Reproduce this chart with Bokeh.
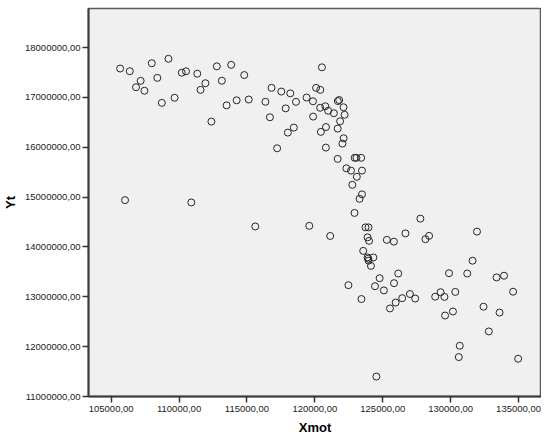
from bokeh.plotting import figure
from bokeh.models import FixedTicker, Range1d
from bokeh.embed import file_html
from bokeh.resources import INLINE

xmot = [
    105660, 106370, 106830, 107170, 107450, 107990, 108400, 108730, 109220, 109670,
    110200, 110510, 111340, 111580, 111940, 112380, 112780, 113150, 113500, 113840,
    114240, 114800, 115130, 116360, 116690, 116810, 117220, 106020, 110900, 115610,
    117530, 118190, 118610, 117850, 118450, 118010, 119390, 119860, 120090, 120400,
    120520, 119870, 120390, 120770, 120980, 121400, 121690, 121790, 122110, 122190,
    121860, 120820, 120440, 121680, 122120, 122030, 120810, 121680, 122930, 123060,
    123410, 122320, 122660, 123470, 123090, 122760, 123470, 123290, 122920, 119590,
    121130, 123730, 123950, 123880, 123990, 123560, 123880, 123960, 123930, 124310,
    124130, 125300, 125820, 126670, 127770, 128140, 128410, 131940, 122470, 123430,
    124530, 124770, 124430, 125080, 125530, 125830, 125950, 126140, 126430, 127000,
    127390, 128860, 129260, 129540, 129590, 129880, 130170, 130340, 130670, 130600,
    131220, 131610, 132420, 132810, 133380, 133930, 133600, 134600, 134970,
]

yt = [
    17579000, 17525000, 17204000, 17332000, 17133000, 17685000, 17392000, 16890000, 17774000, 16993000,
    17495000, 17523000, 17475000, 17151000, 17284000, 16515000, 17623000, 17334000, 16840000, 17653000,
    16941000, 17448000, 16957000, 16912000, 16601000, 17191000, 15979000, 14939000, 14893000, 14411000,
    17117000, 17081000, 16910000, 16780000, 16394000, 16294000, 16997000, 16922000, 17191000, 17151000,
    17603000, 16615000, 16792000, 16822000, 16732000, 16682000, 16926000, 16947000, 16802000, 16651000,
    16521000, 16405000, 16308000, 16374000, 16180000, 16073000, 15993000, 15766000, 15788000, 15788000,
    15788000, 15577000, 15531000, 15531000, 15407000, 15246000, 15055000, 14965000, 14682000, 14423000,
    14220000, 14393000, 14393000, 14192000, 14122000, 13921000, 13791000, 13724000, 13765000, 13789000,
    13620000, 14142000, 14106000, 14272000, 14568000, 14156000, 14222000, 14307000, 13233000, 12955000,
    11400000, 13373000, 13212000, 13128000, 12767000, 13273000, 12885000, 13467000, 12972000, 13056000,
    12965000, 13002000, 13092000, 12998000, 12624000, 13473000, 12705000, 13098000, 12018000, 11791000,
    13467000, 13724000, 12801000, 12305000, 13389000, 13423000, 12684000, 13102000, 11757000,
]

x_ticks = [105000, 110000, 115000, 120000, 125000, 130000, 135000]
x_tick_labels = ["105000,00", "110000,00", "115000,00", "120000,00",
                 "125000,00", "130000,00", "135000,00"]
y_ticks = [11000000, 12000000, 13000000, 14000000, 15000000, 16000000, 17000000, 18000000]
y_tick_labels = ["11000000,00", "12000000,00", "13000000,00", "14000000,00",
                 "15000000,00", "16000000,00", "17000000,00", "18000000,00"]

FONT = "Liberation Sans"

p = figure(frame_width=453, frame_height=388, output_backend="svg", toolbar_location=None,
           x_range=Range1d(103330, 136690), y_range=Range1d(11000000, 18783000),
           min_border_left=81, min_border_right=0, min_border_top=8, min_border_bottom=0)

p.background_fill_color = "#f0f0f0"
p.border_fill_color = "white"
p.outline_line_color = "#5a5a5a"
p.outline_line_width = 1.5
p.xgrid.visible = False
p.ygrid.visible = False

p.scatter(xmot, yt, size=7, marker="circle", fill_color=None,
          line_color="#262626", line_width=1)

for ax, ticks, labels in ((p.xaxis[0], x_ticks, x_tick_labels), (p.yaxis[0], y_ticks, y_tick_labels)):
    ax.ticker = FixedTicker(ticks=ticks)
    ax.major_label_overrides = {t: l for t, l in zip(ticks, labels)}
    ax.minor_tick_line_color = None
    ax.major_tick_in = 0
    ax.major_tick_out = 6
    ax.major_tick_line_color = "#333333"
    ax.major_tick_line_width = 1.5
    ax.axis_line_color = "#3a3a3a"
    ax.axis_line_width = 2
    ax.major_label_text_font = FONT
    ax.major_label_text_font_size = "9.5px"
    ax.major_label_text_color = "#222222"
    ax.axis_label_text_font = FONT
    ax.axis_label_text_font_style = "bold"
    ax.axis_label_text_font_size = "13px"
    ax.axis_label_text_color = "black"

p.xaxis.axis_label = "Xmot"
p.yaxis.axis_label = "Yt"
p.xaxis.major_label_standoff = 3
p.xaxis.axis_label_standoff = 5
p.yaxis.major_label_standoff = 2
p.yaxis.axis_label_standoff = 4

open("out.html", "w").write(file_html(p, INLINE))
